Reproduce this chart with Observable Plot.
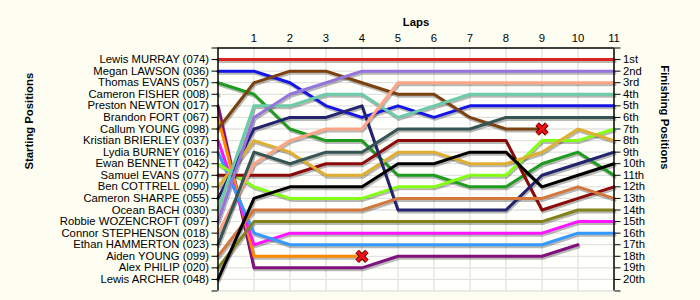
<!DOCTYPE html>
<html>
<head>
<meta charset="utf-8">
<script src="https://cdn.jsdelivr.net/npm/d3@7"></script>
<script src="https://cdn.jsdelivr.net/npm/@observablehq/plot@0.6"></script>
<style>
  html, body { margin: 0; padding: 0; background: #fdfdf1; }
  #chart { width: 700px; height: 300px; }
</style>
</head>
<body>
<div id="chart"></div>
<script>
// Starting grid order (position 1..20)
const drivers = [
  "Lewis MURRAY (074)", "Megan LAWSON (036)", "Thomas EVANS (057)", "Cameron FISHER (008)",
  "Preston NEWTON (017)", "Brandon FORT (067)", "Callum YOUNG (098)", "Kristian BRIERLEY (037)",
  "Lydia BURNEY (016)", "Ewan BENNETT (042)", "Samuel EVANS (077)", "Ben COTTRELL (090)",
  "Cameron SHARPE (055)", "Ocean BACH (030)", "Robbie WOZENCROFT (097)", "Connor STEPHENSON (018)",
  "Ethan HAMMERTON (023)", "Aiden YOUNG (099)", "Alex PHILIP (020)", "Lewis ARCHER (048)"
];
const lineColors = [
  "#dc2323", "#1414e6", "#1e9c1e", "#999999",
  "#80107e", "#ff8a00", "#7b4210", "#ff14ff",
  "#3399ff", "#84ff14", "#8b0a0a", "#e0ae30",
  "#23236e", "#6ccca8", "#9575dc", "#ffa585",
  "#355555", "#d4773c", "#82821a", "#000000"
];
// Position at each lap (lap 0 = start); missing laps = not running
const positions = [
  [1, 1, 1, 1, 1, 1, 1, 1, 1, 1, 1, 1],
  [2, 2, 3, 5, 6, 5, 6, 5, 5, 5, 5, 5],
  [3, 4, 7, 8, 8, 11, 11, 12, 12, 10, 9, 11],
  [4],
  [5, 19, 19, 19, 19, 18, 18, 18, 18, 18, 17],
  [6, 18, 18, 18, 18],
  [7, 3, 2, 2, 3, 4, 4, 6, 7, 7],
  [8, 17, 16, 16, 16, 16, 16, 16, 16, 16, 15, 15],
  [9, 16, 17, 17, 17, 17, 17, 17, 17, 17, 16, 16],
  [10, 12, 13, 13, 13, 12, 12, 11, 11, 8, 8, 7],
  [11, 11, 11, 10, 10, 8, 8, 8, 8, 14, 13, 12],
  [12, 8, 9, 11, 11, 9, 9, 10, 10, 9, 7, 8],
  [13, 7, 6, 6, 5, 14, 14, 14, 14, 11, 10, 9],
  [14, 5, 5, 4, 4, 6, 5, 4, 4, 4, 4, 4],
  [15, 6, 4, 3, 2, 2, 2, 2, 2, 2, 2, 2],
  [16, 10, 8, 7, 7, 3, 3, 3, 3, 3, 3, 3],
  [17, 9, 10, 9, 9, 7, 7, 7, 6, 6, 6, 6],
  [18, 14, 14, 14, 14, 13, 13, 13, 13, 13, 12, 13],
  [19, 15, 15, 15, 15, 15, 15, 15, 15, 15, 14, 14],
  [20, 13, 12, 12, 12, 10, 10, 9, 9, 12, 11, 10]
];
const retired = ["Brandon FORT (067)", "Callum YOUNG (098)"];
const lapTicks = [1, 2, 3, 4, 5, 6, 7, 8, 9, 10, 11];
const finishLabels = ["1st","2nd","3rd","4th","5th","6th","7th","8th","9th","10th",
  "11th","12th","13th","14th","15th","16th","17th","18th","19th","20th"];

const rows = [];
drivers.forEach((name, i) => {
  positions[i].forEach((p, lap) => rows.push({driver: name, lap, pos: p}));
});
const retiredPts = retired.map(name => {
  const i = drivers.indexOf(name);
  const arr = positions[i];
  return {driver: name, lap: arr.length - 1, pos: arr[arr.length - 1]};
});
const gridPositions = d3.range(1, 22);
const gridLaps = d3.range(1, 11);
const allTicks = d3.range(0, 22);

const chart = Plot.plot({
  width: 700,
  height: 300,
  marginLeft: 217.5,
  marginRight: 86.5,
  marginTop: 47.5,
  marginBottom: 9.5,
  style: {fontFamily: "'Liberation Sans', Arial, sans-serif", fontSize: "11.3px", background: "transparent", color: "#000"},
  x: {domain: [0, 11]},
  y: {domain: [0, 21], reverse: true},
  color: {domain: drivers, range: lineColors},
  marks: [
    Plot.frame({fill: "#fffffb", stroke: null}),
    Plot.ruleY(gridPositions, {stroke: "#e2e2e2", strokeWidth: 1.3}),
    Plot.ruleX(gridLaps, {stroke: "#e2e2e2", strokeWidth: 1.3}),
    Plot.line(rows, {x: "lap", y: "pos", z: "driver", stroke: "#000", strokeOpacity: 0.28, strokeWidth: 3, dx: 1, dy: 2, curve: "linear"}),
    Plot.line(rows, {x: "lap", y: "pos", z: "driver", stroke: "driver", strokeWidth: 3, curve: "linear"}),
    Plot.ruleX([0, 11], {stroke: "#000", strokeWidth: 1.5}),
    Plot.ruleY([0], {stroke: "#000", strokeWidth: 1.5}),
    Plot.axisY(allTicks, {anchor: "left", tickSize: 6, tickPadding: 3, tickFormat: d => drivers[d - 1] ?? "", label: null}),
    Plot.axisY(allTicks, {anchor: "right", tickSize: 6, tickPadding: 3, tickFormat: d => finishLabels[d - 1] ?? "", label: null}),
    Plot.axisX(lapTicks, {anchor: "top", tickSize: 0, tickPadding: 6, label: null}),
    Plot.dot(retiredPts, {x: "lap", y: "pos", symbol: "times", r: 4.5, stroke: "#5a0000", strokeWidth: 5}),
    Plot.dot(retiredPts, {x: "lap", y: "pos", symbol: "times", r: 4.5, stroke: "#f01010", strokeWidth: 3}),
    Plot.text(["Laps"], {text: d => d, frameAnchor: "top", dy: -30, fontWeight: "bold"}),
    Plot.text(["Starting Positions"], {text: d => d, frameAnchor: "left", dx: -189, rotate: -90, fontWeight: "bold"}),
    Plot.text(["Finishing Positions"], {text: d => d, frameAnchor: "right", dx: 51, rotate: 90, fontWeight: "bold"})
  ]
});
document.getElementById("chart").appendChild(chart);
</script>
</body>
</html>
